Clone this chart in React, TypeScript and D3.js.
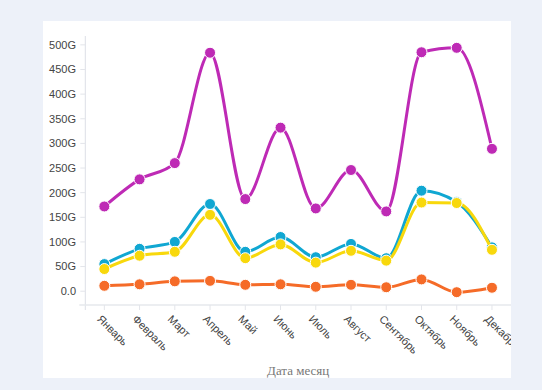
import React from "react";
import * as d3 from "d3";

const months = ["Январь", "Февраль", "Март", "Апрель", "Май", "Июнь", "Июль", "Август", "Сентябрь", "Октябрь", "Ноябрь", "Декабрь"];
const purpleValues = [172, 227, 260, 484, 187, 332, 168, 246, 162, 485, 494, 289];
const cyanValues = [55, 86, 100, 177, 80, 110, 69, 96, 67, 204, 181, 89];
const yellowValues = [45, 72, 80, 155, 67, 95, 58, 82, 62, 180, 179, 84];
const orangeValues = [11, 14, 20, 21, 13, 14, 9, 13, 8, 24, -2, 7];
const yTickValues = [0, 50, 100, 150, 200, 250, 300, 350, 400, 450, 500];
const yTickLabels = ["0.0", "50G", "100G", "150G", "200G", "250G", "300G", "350G", "400G", "450G", "500G"];
const xAxisTitle = "Дата месяц";

const series = [
  { name: "purple", values: purpleValues, color: "#BE2AB5" },
  { name: "cyan", values: cyanValues, color: "#10A7D2" },
  { name: "yellow", values: yellowValues, color: "#F8D80C" },
  { name: "orange", values: orangeValues, color: "#F56B28" },
];

export default function App() {
  const W = 542, H = 390;
  const left = 85.3, right = 511, top = 36, bottom = 305;
  const x = d3.scalePoint<string>().domain(months).range([left, right]).padding(0.54);
  const y = d3.scaleLinear().domain([-28, 518]).range([bottom, top]);
  const line = d3
    .line<number>()
    .x((_, i) => x(months[i]) as number)
    .y((v) => y(v))
    .curve(d3.curveMonotoneX);
  const font = "'Liberation Sans', Arial, sans-serif";
  return (
    <svg
      width={W}
      height={H}
      style={{ position: "fixed", left: 0, top: 0, display: "block" }}
    >
      <defs>
        <clipPath id="panelClip">
          <rect x={43} y={21} width={468} height={357} />
        </clipPath>
      </defs>
      <rect x={0} y={0} width={W} height={H} fill="#EDF1F9" />
      <rect x={43} y={21} width={468} height={357} fill="#FFFFFF" />
      {/* y axis */}
      <line x1={left} x2={left} y1={top} y2={bottom + 5} stroke="#DCDFE6" strokeWidth={1} />
      {yTickValues.map((v, i) => (
        <g key={v}>
          <line x1={left - 5} x2={left} y1={y(v)} y2={y(v)} stroke="#E3E5EA" />
          <text x={76} y={y(v)} dy="0.35em" textAnchor="end" fontSize={11} fill="#444" fontFamily={font}>
            {yTickLabels[i]}
          </text>
        </g>
      ))}
      {/* x axis */}
      <line x1={left - 6} x2={right} y1={bottom} y2={bottom} stroke="#E6E8EC" strokeWidth={1.5} />
      <g clipPath="url(#panelClip)">
        {months.map((m) => (
          <g key={m}>
            <line x1={x(m)} x2={x(m)} y1={bottom} y2={bottom + 5} stroke="#E3E5EA" />
            <text
              transform={`translate(${(x(m) as number) - 5},${bottom + 12}) rotate(45)`}
              textAnchor="start"
              dy="0.35em"
              fontSize={11}
              fill="#444"
              fontFamily={font}
            >
              {m}
            </text>
          </g>
        ))}
      </g>
      <text x={(left + right) / 2} y={375} textAnchor="middle" fontSize={13} fill="#777" fontFamily="'Liberation Serif', 'Times New Roman', serif">
        {xAxisTitle}
      </text>
      {series.map((s) => (
        <g key={s.name}>
          <path d={line(s.values) as string} fill="none" stroke={s.color} strokeWidth={3} />
          {s.values.map((v, i) => (
            <circle key={i} cx={x(months[i])} cy={y(v)} r={5.5} fill={s.color} stroke="#fff" strokeWidth={1} />
          ))}
        </g>
      ))}
    </svg>
  );
}
